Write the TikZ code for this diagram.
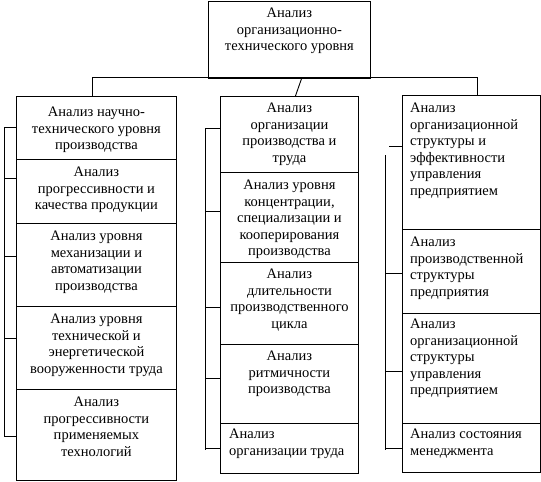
\documentclass[tikz,border=0pt]{standalone}
\usepackage{fontspec}
\setmainfont{Liberation Serif}
\begin{document}
\begin{tikzpicture}[x=1pt,y=-1pt,
  box/.style={draw, line width=0.9pt, inner sep=0pt, anchor=north west},
  txt/.style={font=\fontsize{14.5}{16.5}\selectfont, align=center, inner sep=0pt, anchor=north},
  ltxt/.style={font=\fontsize{14.5}{16.5}\selectfont, align=left, inner sep=0pt, anchor=north west},
  link/.style={line width=0.9pt}]
\useasboundingbox (0,0) rectangle (541,482);
\fill[white] (0,0) rectangle (541,482);
% top box
\node[box, minimum width=162, minimum height=77] (T) at (208,1) {};
\node[txt] (Tt) at ([yshift=-7pt]T.north) {Анализ\\организационно-\\технического уровня};
% left column
\node[box, minimum width=160, minimum height=63] (L1) at (16,96) {};
\node[box, minimum width=160, minimum height=64] (L2) at (16,159) {};
\node[box, minimum width=160, minimum height=83] (L3) at (16,223) {};
\node[box, minimum width=160, minimum height=83] (L4) at (16,306) {};
\node[box, minimum width=160, minimum height=91] (L5) at (16,389) {};
\node[txt] (L1t) at ([yshift=-11pt]L1.north) {Анализ научно-\\технического уровня\\производства};
\node[txt] (L2t) at ([yshift=-8pt]L2.north) {Анализ\\прогрессивности и\\качества продукции};
\node[txt] (L3t) at ([yshift=-8pt]L3.north) {Анализ уровня\\механизации и\\автоматизации\\производства};
\node[txt] (L4t) at ([yshift=-8pt]L4.north) {Анализ уровня\\технической и\\энергетической\\вооруженности труда};
\node[txt] (L5t) at ([yshift=-8pt]L5.north) {Анализ\\прогрессивности\\применяемых\\технологий};
% middle column
\node[box, minimum width=138, minimum height=76] (M1) at (220,96) {};
\node[box, minimum width=138, minimum height=90] (M2) at (220,172) {};
\node[box, minimum width=138, minimum height=82] (M3) at (220,262) {};
\node[box, minimum width=138, minimum height=79] (M4) at (220,344) {};
\node[box, minimum width=138, minimum height=50] (M5) at (220,423) {};
\node[txt] (M1t) at ([yshift=-7pt]M1.north) {Анализ\\организации\\производства и\\труда};
\node[txt] (M2t) at ([yshift=-8pt]M2.north) {Анализ уровня\\концентрации,\\специализации и\\кооперирования\\производства};
\node[txt] (M3t) at ([yshift=-7pt]M3.north) {Анализ\\длительности\\производственного\\цикла};
\node[txt] (M4t) at ([yshift=-7pt]M4.north) {Анализ\\ритмичности\\производства};
\node[ltxt] (M5t) at ([xshift=9pt,yshift=-6pt]M5.north west) {Анализ\\организации труда};
% right column
\node[box, minimum width=138, minimum height=134] (R1) at (402,95) {};
\node[box, minimum width=138, minimum height=84] (R2) at (402,229) {};
\node[box, minimum width=138, minimum height=110] (R3) at (402,313) {};
\node[box, minimum width=138, minimum height=49] (R4) at (402,423) {};
\node[ltxt] (R1t) at ([xshift=8pt,yshift=-8pt]R1.north west) {Анализ\\организационной\\структуры и\\эффективности\\управления\\предприятием};
\node[ltxt] (R2t) at ([xshift=8pt,yshift=-8pt]R2.north west) {Анализ\\производственной\\структуры\\предприятия};
\node[ltxt] (R3t) at ([xshift=8pt,yshift=-6pt]R3.north west) {Анализ\\организационной\\структуры\\управления\\предприятием};
\node[ltxt] (R4t) at ([xshift=8pt,yshift=-6pt]R4.north west) {Анализ состояния\\менеджмента};
% top connectors
\coordinate (hl) at (92,77);
\coordinate (hr) at (477,77);
\draw[link] (L1.north -| hl) -- (hl) -- (hr) -- (R1.north -| hr);
\draw[link] ([xshift=12pt]T.south) -- ([xshift=6pt]M1.north);
% left bracket
\coordinate (la1) at (4,127);
\coordinate (la2) at (4,178);
\coordinate (la3) at (4,256);
\coordinate (la4) at (4,338);
\coordinate (la5) at (4,436);
\draw[link] (la1) -- (la5);
\foreach \i/\b in {1/L1,2/L2,3/L3,4/L4,5/L5} \draw[link] (la\i) -- (la\i -| \b.west);
% middle bracket
\coordinate (ma1) at (205,128);
\coordinate (ma2) at (205,211);
\coordinate (ma3) at (205,307);
\coordinate (ma4) at (205,378);
\coordinate (ma5) at (205,448);
\draw[link] (ma1) -- ([yshift=-2pt]ma5);
\foreach \i/\b in {1/M1,2/M2,3/M3,4/M4,5/M5} \draw[link] (ma\i) -- (ma\i -| \b.west);
% right bracket
\coordinate (ra1) at (389,146);
\coordinate (rv) at (385,155);
\coordinate (ra2) at (385,273);
\coordinate (ra3) at (385,371);
\coordinate (ra4) at (385,448);
\draw[link] (ra1) -- (ra1 -| R1.west);
\draw[link] (rv) -- ([yshift=-2pt]ra4);
\foreach \i/\b in {2/R2,3/R3,4/R4} \draw[link] (ra\i) -- (ra\i -| \b.west);
\end{tikzpicture}
\end{document}
